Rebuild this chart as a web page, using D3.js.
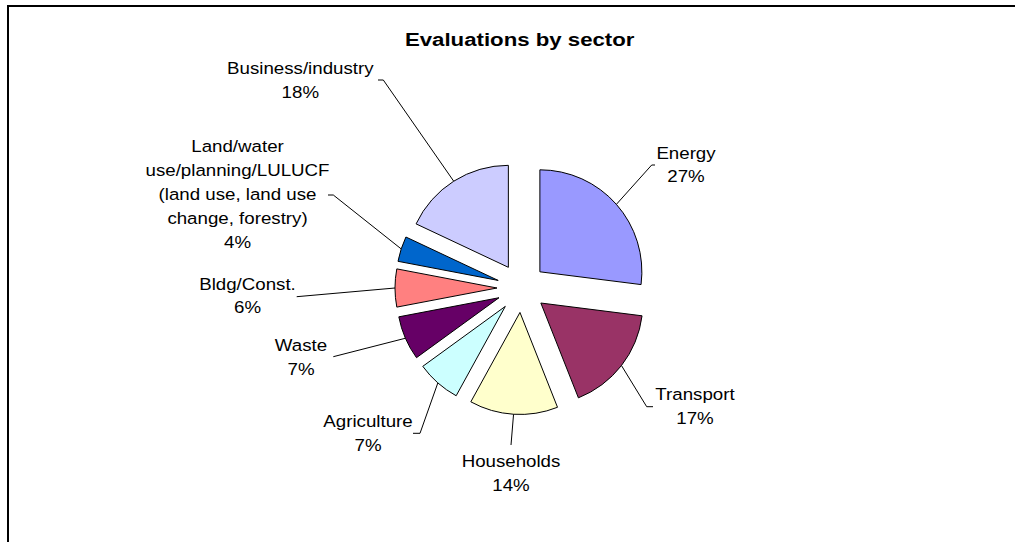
<!DOCTYPE html>
<html><head><meta charset="utf-8">
<script src="https://cdn.jsdelivr.net/npm/d3@7"></script>
<style>html,body{margin:0;padding:0;background:#fff;} svg{display:block}</style>
</head><body>
<svg id="chart" width="1018" height="542"></svg>
<script>
const categories = ["Energy", "Transport", "Households", "Agriculture", "Waste", "Bldg/Const.",
  "Land/water use/planning/LULUCF (land use, land use change, forestry)", "Business/industry"];
const shares = [27, 17, 14, 7, 7, 6, 4, 18];
const sliceColors = ["#9999FF", "#993366", "#FFFFCC", "#CCFFFF", "#660066", "#FF8080", "#0066CC", "#CCCCFF"];
const labelLines = [["Energy"], ["Transport"], ["Households"], ["Agriculture"], ["Waste"], ["Bldg/Const."],
  ["Land/water", "use/planning/LULUCF", "(land use, land use", "change, forestry)"], ["Business/industry"]];
const titleText = "Evaluations by sector";

// layout of the label blocks: text centre x, first baseline y, leader elbow, leader tail x
const labelLayout = [
  {x: 686, y: 158.5, elbow: [651.7, 165], tail: 655},
  {x: 695, y: 400, elbow: [646.7, 406.7], tail: 653},
  {x: 511, y: 467, elbow: [511, 445], tail: null},
  {x: 368, y: 427, elbow: [420, 433.3], tail: 413},
  {x: 301, y: 351, elbow: [333.3, 356.7], tail: null},
  {x: 247.5, y: 289.5, elbow: [296.7, 296.7], tail: null},
  {x: 237.5, y: 152, elbow: [333.3, 195], tail: 328},
  {x: 300.3, y: 74, elbow: [383.3, 80], tail: 378}
];

const W = 1018, H = 542;
const cx = 521.5, cy = 288, R = 102, explode = 24.5;
const lineH = 24, fontSize = 16.7, stretch = 1.12;

const svg = d3.select("#chart");
const font = "'Liberation Sans', Arial, sans-serif";

// chart frame (open at the right and bottom)
svg.append("path")
  .attr("d", `M8,${H} V6 H1015`)
  .attr("fill", "none").attr("stroke", "#000").attr("stroke-width", 2);

svg.append("text")
  .attr("transform", `translate(519.7,46) scale(1.17,1)`)
  .attr("text-anchor", "middle")
  .attr("font-family", font).attr("font-weight", "bold").attr("font-size", 19)
  .text(titleText);

const color = d3.scaleOrdinal().domain(categories).range(sliceColors);
const pie = d3.pie().sort(null).value(d => d.value).startAngle(0).endAngle(2 * Math.PI);
const arc = d3.arc().innerRadius(0).outerRadius(R);

const data = categories.map((c, i) => ({name: c, value: shares[i], lines: labelLines[i], lay: labelLayout[i]}));
const arcs = pie(data);

const g = svg.append("g").attr("transform", `translate(${cx},${cy})`);

// each slice is pulled out along its middle angle
arcs.forEach(a => {
  const mid = (a.startAngle + a.endAngle) / 2;
  a.dx = Math.sin(mid) * explode;
  a.dy = -Math.cos(mid) * explode;
  a.mid = mid;
});

g.selectAll("path.slice").data(arcs).join("path")
  .attr("class", "slice")
  .attr("transform", d => `translate(${d.dx},${d.dy})`)
  .attr("d", arc)
  .attr("fill", d => color(d.data.name))
  .attr("stroke", "#000").attr("stroke-width", 1).attr("stroke-linejoin", "round");

// leader lines from the arc middle to the label
svg.selectAll("path.leader").data(arcs).join("path")
  .attr("class", "leader")
  .attr("fill", "none").attr("stroke", "#000").attr("stroke-width", 1)
  .attr("d", d => {
    const px = cx + d.dx + Math.sin(d.mid) * R;
    const py = cy + d.dy - Math.cos(d.mid) * R;
    const L = d.data.lay;
    let p = `M${px},${py} L${L.elbow[0]},${L.elbow[1]}`;
    if (L.tail !== null) p += ` H${L.tail}`;
    return p;
  });

const labels = svg.selectAll("text.lbl").data(arcs).join("text")
  .attr("class", "lbl")
  .attr("transform", d => `translate(${d.data.lay.x},${d.data.lay.y}) scale(${stretch},1)`)
  .attr("text-anchor", "middle")
  .attr("font-family", font).attr("font-size", fontSize).attr("fill", "#000");

labels.each(function(d) {
  const t = d3.select(this);
  const rows = d.data.lines.concat([d.data.value + "%"]);
  rows.forEach((r, i) => {
    t.append("tspan").attr("x", 0).attr("y", i * lineH).text(r);
  });
});
</script>
</body></html>
